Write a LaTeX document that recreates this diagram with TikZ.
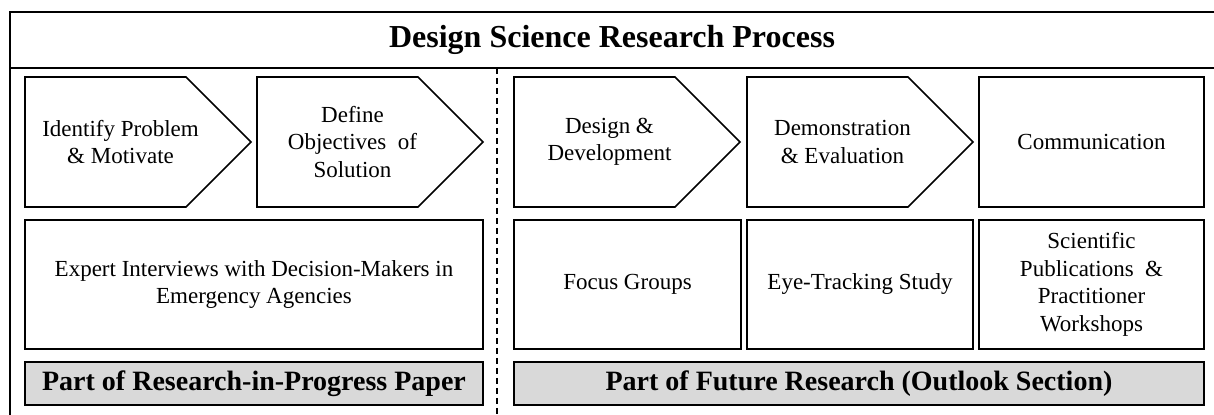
\documentclass[tikz,border=0pt]{standalone}
\usepackage{fontspec}
\setmainfont{Liberation Serif}
\usetikzlibrary{shapes.symbols}

\begin{document}
\begin{tikzpicture}[x=0.5pt, y=-0.5pt, line width=0.8pt,
    every node/.style={font=\fontsize{11.5}{13.75}\selectfont, align=center, inner sep=0pt, outer sep=0pt},
    box/.style={draw, rectangle, minimum height=64.5pt},
    chev/.style={draw, signal, signal to=east, signal pointer angle=90, minimum width=113pt, minimum height=65pt, anchor=west},
    steptext/.style={label={[xshift=7.5pt]center:{#1}}},
    part/.style={draw, fill=black!15, minimum height=21.5pt, font=\fontsize{14}{17}\selectfont\bfseries}]
    \useasboundingbox (0,0) rectangle (1214,415);
    \clip (0,0) rectangle (1214,415);
    % frame and title band
    \draw (10,430) -- (10,12) -- (1230,12);
    \draw (10,68) -- (1230,68);
    \node[font=\fontsize{16}{19}\selectfont\bfseries] (title) at (612,40) {Design Science Research Process};
    \coordinate (divtop) at (497,68);
    \coordinate (divbot) at (497,430);
    \draw[dashed, dash pattern=on 3pt off 2pt] (divtop) -- (divbot);
    % process steps
    \node[chev, steptext={Identify Problem\\ \& Motivate}] (identify) at (25,142) {};
    \node[chev, steptext={Define\\ Objectives\ \ of\\ Solution}] (define) at (257,142) {};
    \node[chev, steptext={Design \&\\ Development}] (design) at (514,142) {};
    \node[chev, steptext={Demonstration\\ \& Evaluation}] (demo) at (747,142) {};
    \node[box, minimum width=112.5pt, minimum height=65pt] (comm) at (1091.5,142) {Communication};
    % methods
    \node[box, minimum width=229pt] (expert) at (254,284.5) {Expert Interviews\ with Decision-Makers\ in\\ Emergency\ Agencies};
    \node[box, minimum width=113.5pt] (focus) at (627.5,284.5) {Focus Groups};
    \node[box, minimum width=113pt] (eye) at (860,284.5) {Eye-Tracking\ Study};
    \node[box, minimum width=112.5pt] (sci) at (1091.5,284.5) {Scientific\\ Publications\ \ \&\\ Practitioner\\ Workshops};
    % scope of this paper
    \node[part, minimum width=229pt] (paper) at (254,383.5) {Part of Research-in-Progress Paper};
    \node[part, minimum width=345pt] (future) at (859,383.5) {Part of Future Research (Outlook Section)};
\end{tikzpicture}
\end{document}
